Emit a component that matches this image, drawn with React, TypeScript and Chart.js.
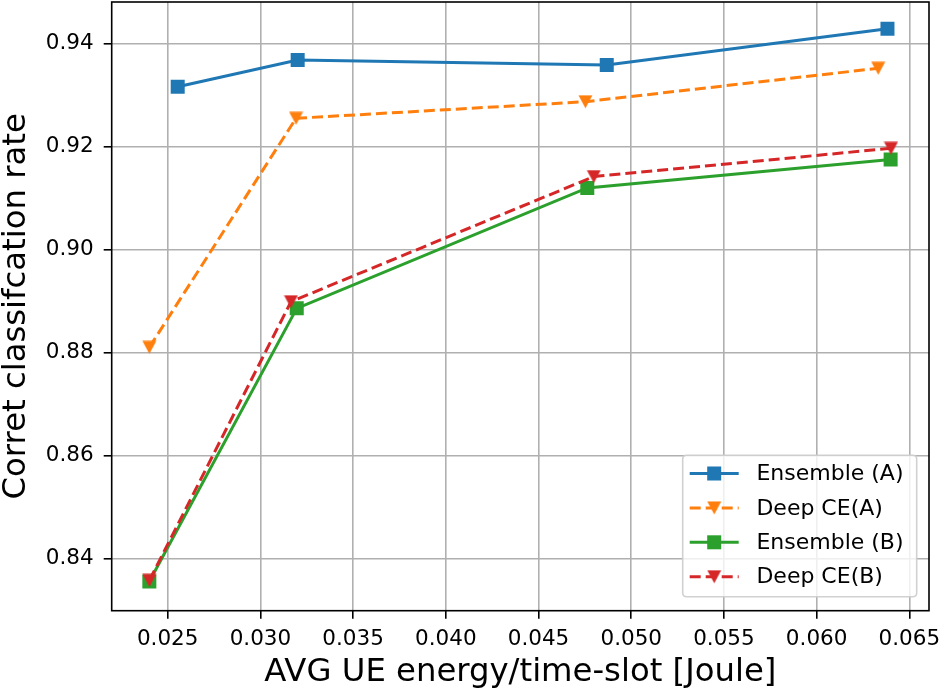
import React, { useEffect, useRef } from 'react';
import { Chart, registerables } from 'chart.js';

Chart.register(...registerables);

// ---- data ----
const SERIES_NAMES = ['Ensemble (A)', 'Deep CE(A)', 'Ensemble (B)', 'Deep CE(B)'];
const SERIES_COLORS = ['#1f77b4', '#ff7f0e', '#2ca02c', '#d62728'];
const SERIES_DASHED = [false, true, false, true];
const SERIES_MARKER = ['square', 'triangleDown', 'square', 'triangleDown'];

const ENSEMBLE_A_X = [0.02554, 0.03201, 0.04868, 0.06382];
const ENSEMBLE_A_Y = [0.93157, 0.93676, 0.93579, 0.94283];
const DEEP_CE_A_X = [0.02401, 0.03192, 0.04753, 0.06332];
const DEEP_CE_A_Y = [0.88097, 0.92544, 0.92866, 0.93515];
const ENSEMBLE_B_X = [0.02401, 0.03196, 0.04763, 0.06399];
const ENSEMBLE_B_Y = [0.83550, 0.88854, 0.91192, 0.91742];
const DEEP_CE_B_X = [0.02401, 0.03165, 0.04798, 0.06401];
const DEEP_CE_B_Y = [0.83570, 0.88983, 0.91412, 0.91961];

const X_TICKS = [0.025, 0.03, 0.035, 0.04, 0.045, 0.05, 0.055, 0.06, 0.065];
const Y_TICKS = [0.84, 0.86, 0.88, 0.9, 0.92, 0.94];
const X_RANGE = [0.02198, 0.06606];
const Y_RANGE = [0.82983, 0.94802];

const X_TITLE = 'AVG UE energy/time-slot [Joule]';
const Y_TITLE = 'Corret classifcation rate';

const SERIES_X = [ENSEMBLE_A_X, DEEP_CE_A_X, ENSEMBLE_B_X, DEEP_CE_B_X];
const SERIES_Y = [ENSEMBLE_A_Y, DEEP_CE_A_Y, ENSEMBLE_B_Y, DEEP_CE_B_Y];

const FONT = 'DejaVu Sans';

function makeTriangle(color: string): HTMLCanvasElement {
  const c = document.createElement('canvas');
  c.width = 15;
  c.height = 14;
  const g = c.getContext('2d')!;
  g.fillStyle = color;
  g.beginPath();
  g.moveTo(0.5, 0.5);
  g.lineTo(14.5, 0.5);
  g.lineTo(7.5, 13.5);
  g.closePath();
  g.fill();
  return c;
}

const framePlugin = {
  id: 'frameBox',
  afterDatasetsDraw(chart: any) {
    const { ctx, chartArea: a } = chart;
    ctx.save();
    ctx.strokeStyle = '#000';
    ctx.lineWidth = 1.6;
    ctx.strokeRect(a.left, a.top, a.right - a.left, a.bottom - a.top);
    ctx.restore();
  },
};

function roundRect(ctx: CanvasRenderingContext2D, x: number, y: number, w: number, h: number, r: number) {
  ctx.beginPath();
  ctx.moveTo(x + r, y);
  ctx.lineTo(x + w - r, y);
  ctx.quadraticCurveTo(x + w, y, x + w, y + r);
  ctx.lineTo(x + w, y + h - r);
  ctx.quadraticCurveTo(x + w, y + h, x + w - r, y + h);
  ctx.lineTo(x + r, y + h);
  ctx.quadraticCurveTo(x, y + h, x, y + h - r);
  ctx.lineTo(x, y + r);
  ctx.quadraticCurveTo(x, y, x + r, y);
  ctx.closePath();
}

const legendPlugin = {
  id: 'insideLegend',
  afterDraw(chart: any) {
    const { ctx, chartArea: a } = chart;
    const w = 234;
    const h = 141.5;
    const right = a.right - 12.3;
    const bottom = a.bottom - 14;
    const left = right - w;
    const top = bottom - h;
    ctx.save();
    roundRect(ctx, left, top, w, h, 4);
    ctx.fillStyle = 'rgba(255,255,255,0.8)';
    ctx.fill();
    ctx.strokeStyle = 'rgba(204,204,204,0.9)';
    ctx.lineWidth = 1.6;
    ctx.stroke();
    ctx.font = `22px "${FONT}"`;
    ctx.textBaseline = 'middle';
    ctx.textAlign = 'left';
    chart.data.datasets.forEach((ds: any, i: number) => {
      const y = top + 18.3 + i * 34.4;
      const x0 = left + 7;
      const x1 = left + 56;
      ctx.strokeStyle = ds.borderColor;
      ctx.lineWidth = 3;
      ctx.setLineDash(ds.borderDash || []);
      ctx.beginPath();
      ctx.moveTo(x0, y);
      ctx.lineTo(x1, y);
      ctx.stroke();
      ctx.setLineDash([]);
      const mx = (x0 + x1) / 2;
      if (SERIES_MARKER[i] === 'square') {
        ctx.fillStyle = ds.borderColor;
        ctx.fillRect(mx - 7, y - 7, 14, 14);
      } else {
        const img = ds.pointStyle as HTMLCanvasElement;
        ctx.drawImage(img, mx - img.width / 2, y - img.height / 2);
      }
      ctx.fillStyle = '#000';
      ctx.fillText(SERIES_NAMES[i], left + 73.7, y + 1);
    });
    ctx.restore();
  },
};

function zeroPadding(scale: any) {
  scale.paddingTop = 0;
  scale.paddingBottom = 0;
  scale.paddingLeft = 0;
  scale.paddingRight = 0;
}

export default function App() {
  const ref = useRef<HTMLCanvasElement | null>(null);

  useEffect(() => {
    const canvas = ref.current;
    if (!canvas) return;
    Chart.defaults.font.family = FONT;
    Chart.defaults.color = '#000';

    const datasets = SERIES_NAMES.map((name, i) => ({
      label: name,
      data: SERIES_X[i].map((x, k) => ({ x, y: SERIES_Y[i][k] })),
      borderColor: SERIES_COLORS[i],
      backgroundColor: SERIES_COLORS[i],
      borderWidth: 3,
      borderDash: SERIES_DASHED[i] ? [11, 5] : [],
      pointStyle: SERIES_MARKER[i] === 'square' ? 'rect' : makeTriangle(SERIES_COLORS[i]),
      pointRadius: 9.9,
      pointBorderWidth: 0,
      pointHoverRadius: 9.9,
      tension: 0,
      fill: false,
      order: SERIES_NAMES.length - 1 - i,
    }));

    const chart = new Chart(canvas, {
      type: 'line',
      data: { datasets } as any,
      options: {
        animation: false,
        responsive: false,
        devicePixelRatio: 1,
        layout: { autoPadding: false, padding: { top: 2, right: 14, left: 0, bottom: 0 } },
        plugins: {
          legend: { display: false },
          tooltip: { enabled: false },
        },
        scales: {
          x: {
            type: 'linear',
            min: X_RANGE[0],
            max: X_RANGE[1],
            afterBuildTicks: (scale: any) => {
              scale.ticks = X_TICKS.map((v) => ({ value: v }));
            },
            afterFit: (scale: any) => {
              scale.height = 81.3;
              zeroPadding(scale);
            },
            ticks: {
              autoSkip: false,
              maxRotation: 0,
              padding: 8,
              color: '#000',
              font: { size: 21.5, family: FONT },
              callback: (v: any) => Number(v).toFixed(3),
            },
            grid: {
              color: '#b0b0b0',
              lineWidth: 1.6,
              tickColor: '#000',
              tickLength: 8,
              tickWidth: 1.6,
            },
            border: { display: false },
            title: {
              display: true,
              text: X_TITLE,
              color: '#000',
              font: { size: 32.3, family: FONT, lineHeight: 1 },
              padding: { top: 0, bottom: 3.5 },
            },
          },
          y: {
            type: 'linear',
            min: Y_RANGE[0],
            max: Y_RANGE[1],
            afterBuildTicks: (scale: any) => {
              scale.ticks = Y_TICKS.map((v) => ({ value: v }));
            },
            afterFit: (scale: any) => {
              scale.width = 111.7;
              zeroPadding(scale);
            },
            ticks: {
              autoSkip: false,
              padding: 10,
              color: '#000',
              font: { size: 21.5, family: FONT },
              callback: (v: any) => Number(v).toFixed(2),
            },
            grid: {
              color: '#b0b0b0',
              lineWidth: 1.6,
              tickColor: '#000',
              tickLength: 8,
              tickWidth: 1.6,
            },
            border: { display: false },
            title: {
              display: true,
              text: Y_TITLE,
              color: '#000',
              font: { size: 32.3, family: FONT, lineHeight: 1 },
              padding: { top: 0, bottom: 0 },
            },
          },
        },
      },
      plugins: [framePlugin, legendPlugin],
    } as any);

    return () => {
      chart.destroy();
    };
  }, []);

  return (
    <div style={{ position: 'absolute', left: 0, top: 0, width: 943, height: 692, background: '#fff' }}>
      <canvas ref={ref} width={943} height={692} style={{ display: 'block', width: 943, height: 692 }} />
    </div>
  );
}
